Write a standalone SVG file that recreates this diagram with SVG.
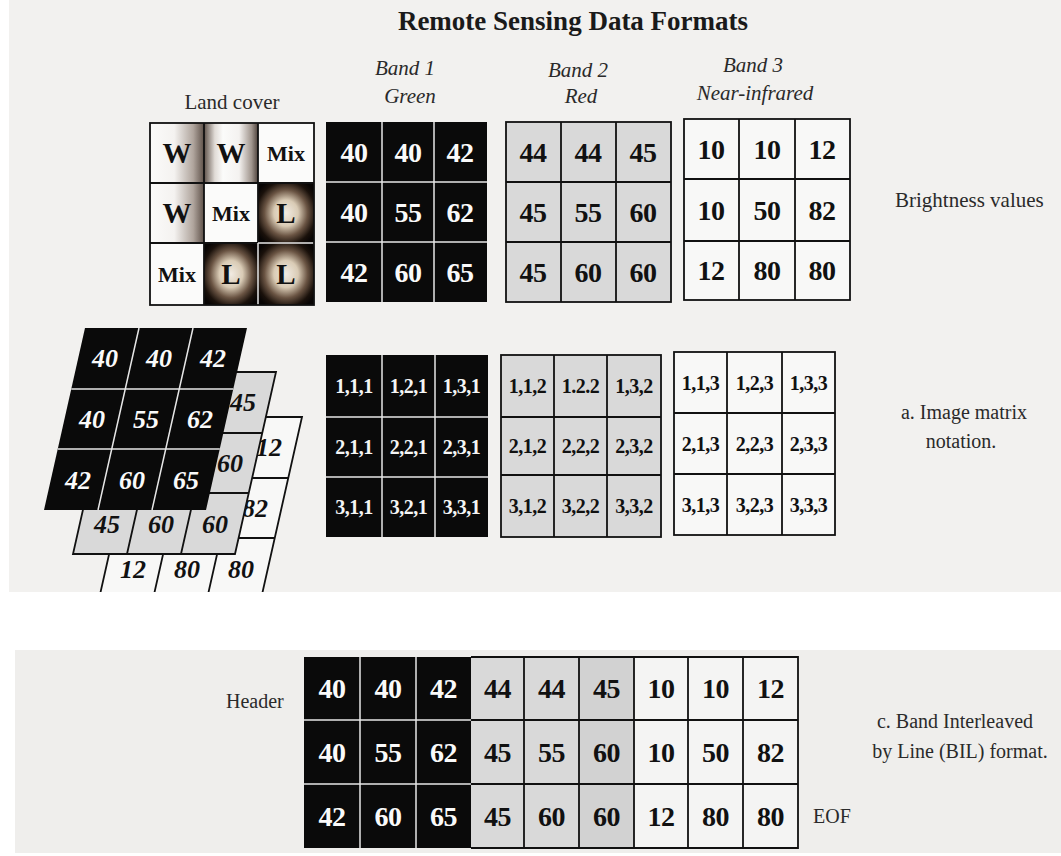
<svg xmlns="http://www.w3.org/2000/svg" width="1061" height="856" viewBox="0 0 1061 856">
<style>
text{font-family:"Liberation Serif","Times New Roman",serif;fill:#1a1a1a}
.t{font-size:27px;font-weight:bold;text-anchor:middle}
.bl{font-size:21px;font-style:italic;text-anchor:middle;fill:#2a2a2a}
.lab{font-size:21px;fill:#2a2a2a}
.labm{font-size:20px;fill:#2a2a2a;text-anchor:middle}
.n{font-size:28px;font-weight:bold;text-anchor:middle;fill:#111;letter-spacing:-0.5px}
.nw{font-size:28px;font-weight:bold;text-anchor:middle;fill:#fafafa;letter-spacing:-0.5px}
.ix{font-size:20px;font-weight:bold;text-anchor:middle;fill:#111;letter-spacing:-0.5px}
.ixw{font-size:20px;font-weight:bold;text-anchor:middle;fill:#f5f5f5;letter-spacing:-0.5px}
.sk{font-size:26px;font-weight:bold;font-style:italic;text-anchor:middle;fill:#111}
.skw{font-size:26px;font-weight:bold;font-style:italic;text-anchor:middle;fill:#fafafa}
.lc{font-size:29px;font-weight:bold;text-anchor:middle;fill:#111}
.lcm{font-size:22px;font-weight:bold;text-anchor:middle;fill:#111}
.blk{fill:#0a0a0a}
.gry{fill:#d9d9d9;stroke:#111;stroke-width:1.8}
.wht{fill:#f8f8f7;stroke:#111;stroke-width:1.8}
.ld{stroke:#111;stroke-width:1.8;fill:none}
.lw{stroke:#e6e6e6;stroke-width:1.5;fill:none}
</style>
<defs>
<linearGradient id="shR" x1="0" y1="0" x2="1" y2="0">
<stop offset="0" stop-color="#fbfbfa"/><stop offset="0.45" stop-color="#f4f2f0"/><stop offset="0.8" stop-color="#b0a59d"/><stop offset="1" stop-color="#5e5149"/>
</linearGradient>
<linearGradient id="shLR" x1="0" y1="0" x2="1" y2="0">
<stop offset="0" stop-color="#5e5149"/><stop offset="0.2" stop-color="#e0dbd6"/><stop offset="0.35" stop-color="#fbfbfa"/><stop offset="0.65" stop-color="#f4f2f0"/><stop offset="0.88" stop-color="#a0958d"/><stop offset="1" stop-color="#4e423b"/>
</linearGradient>
<radialGradient id="glow" cx="0.5" cy="0.5" r="0.62">
<stop offset="0" stop-color="#f1ebe2"/><stop offset="0.35" stop-color="#d9cbb5"/><stop offset="0.62" stop-color="#6a5443"/><stop offset="0.85" stop-color="#1a110b"/><stop offset="1" stop-color="#080504"/>
</radialGradient>
<clipPath id="pageClip"><rect x="9" y="0" width="1052" height="592"/></clipPath>
</defs>

<rect x="0" y="0" width="1061" height="856" fill="#ffffff"/>
<rect x="9" y="0" width="1052" height="592" fill="#f2f1ef"/>
<rect x="15" y="650" width="1046" height="203" fill="#efeeec"/>

<g id="connectors"/>

<g id="title"><text class="t" x="573" y="30">Remote Sensing Data Formats</text></g>

<g id="labels">
<text class="lab" x="232" y="109" text-anchor="middle">Land cover</text>
<text class="bl" x="405" y="75">Band 1</text>
<text class="bl" x="410" y="103">Green</text>
<text class="bl" x="578" y="77">Band 2</text>
<text class="bl" x="581" y="103">Red</text>
<text class="bl" x="753" y="72">Band 3</text>
<text class="bl" x="755" y="100">Near-infrared</text>
<text class="lab" x="895" y="207">Brightness values</text>
<text class="labm" x="964" y="419">a. Image matrix</text>
<text class="labm" x="961" y="448">notation.</text>
<text class="lab" x="226" y="708" style="font-size:20px">Header</text>
<text class="lab" x="813" y="823" style="font-size:20px">EOF</text>
<text class="labm" x="955" y="728">c. Band Interleaved</text>
<text class="labm" x="960" y="758">by Line (BIL) format.</text>
</g>

<g id="landcover">
<rect x="150" y="123" width="54" height="60" fill="url(#shR)"/>
<rect x="204" y="123" width="54" height="60" fill="url(#shLR)"/>
<rect x="258" y="123" width="56" height="60" fill="#fbfbfa"/>
<rect x="150" y="183" width="54" height="60" fill="url(#shR)"/>
<rect x="204" y="183" width="54" height="60" fill="#fbfbfa"/>
<rect x="258" y="183" width="56" height="60" fill="url(#glow)"/>
<rect x="150" y="243" width="54" height="62" fill="#fbfbfa"/>
<rect x="204" y="243" width="54" height="62" fill="url(#glow)"/>
<rect x="258" y="243" width="56" height="62" fill="url(#glow)"/>
<path class="ld" d="M204 123V305M258 123V243M150 183H314M150 243H258"/>
<path class="lw" d="M258 243H314M258 243V305"/>
<rect x="150" y="123" width="164" height="182" class="ld"/>
<text class="lc" x="177" y="163">W</text>
<text class="lc" x="231" y="163">W</text>
<text class="lcm" x="286" y="161">Mix</text>
<text class="lc" x="177" y="223">W</text>
<text class="lcm" x="231" y="221">Mix</text>
<text class="lc" x="286" y="223">L</text>
<text class="lcm" x="177" y="282">Mix</text>
<text class="lc" x="231" y="284">L</text>
<text class="lc" x="286" y="284">L</text>
</g>

<g id="band1">
<rect x="326" y="122" width="161" height="180" class="blk"/>
<path class="lw" d="M382 122V302M434 122V302M326 182H487M326 242H487"/>
<text class="nw" x="354" y="162">40</text><text class="nw" x="408" y="162">40</text><text class="nw" x="460" y="162">42</text>
<text class="nw" x="354" y="222">40</text><text class="nw" x="408" y="222">55</text><text class="nw" x="460" y="222">62</text>
<text class="nw" x="354" y="282">42</text><text class="nw" x="408" y="282">60</text><text class="nw" x="460" y="282">65</text>
</g>

<g id="band2">
<rect x="506" y="122" width="165" height="180" class="gry"/>
<path class="ld" d="M561 122V302M616 122V302M506 182H671M506 242H671"/>
<text class="n" x="533" y="162">44</text><text class="n" x="588" y="162">44</text><text class="n" x="643" y="162">45</text>
<text class="n" x="533" y="222">45</text><text class="n" x="588" y="222">55</text><text class="n" x="643" y="222">60</text>
<text class="n" x="533" y="282">45</text><text class="n" x="588" y="282">60</text><text class="n" x="643" y="282">60</text>
</g>

<g id="band3">
<rect x="684" y="119" width="166" height="181" class="wht"/>
<path class="ld" d="M739 119V300M795 119V300M684 179H850M684 241H850"/>
<text class="n" x="711" y="159">10</text><text class="n" x="767" y="159">10</text><text class="n" x="822" y="159">12</text>
<text class="n" x="711" y="220">10</text><text class="n" x="767" y="220">50</text><text class="n" x="822" y="220">82</text>
<text class="n" x="711" y="280">12</text><text class="n" x="767" y="280">80</text><text class="n" x="822" y="280">80</text>
</g>

<g id="stack" clip-path="url(#pageClip)">
<g id="layer3">
<polygon points="140,417 302,417 261,599 99,599" class="wht"/>
<path class="ld" d="M194 417L153 599M248 417L207 599M126.3 478H288.3M112.8 538H274.8"/>
<text class="sk" x="269" y="456">12</text>
<text class="sk" x="255" y="517">82</text>
<text class="sk" x="133" y="578">12</text><text class="sk" x="187" y="578">80</text><text class="sk" x="241" y="578">80</text>
</g>
<g id="layer2">
<polygon points="114,372 276,372 235,554 73,554" class="gry"/>
<path class="ld" d="M168 372L127 554M222 372L181 554M100.3 433H262.3M86.8 493H248.8"/>
<text class="sk" x="243" y="411">45</text>
<text class="sk" x="230" y="472">60</text>
<text class="sk" x="107" y="533">45</text><text class="sk" x="161" y="533">60</text><text class="sk" x="215" y="533">60</text>
</g>
<g id="layer1">
<polygon points="85,328 247,328 206,510 44,510" class="blk"/>
<path class="lw" d="M139 328L98 510M193 328L152 510M71.3 389H233.3M57.8 449H219.8"/>
<text class="skw" x="105" y="367">40</text><text class="skw" x="159" y="367">40</text><text class="skw" x="213" y="367">42</text>
<text class="skw" x="92" y="428">40</text><text class="skw" x="146" y="428">55</text><text class="skw" x="200" y="428">62</text>
<text class="skw" x="78" y="489">42</text><text class="skw" x="132" y="489">60</text><text class="skw" x="186" y="489">65</text>
</g>
</g>

<g id="index1">
<rect x="326" y="355" width="162" height="182" class="blk"/>
<path class="lw" d="M382 355V537M435 355V537M326 417H488M326 477H488"/>
<text class="ixw" x="354" y="393">1,1,1</text><text class="ixw" x="408.5" y="393">1,2,1</text><text class="ixw" x="461.5" y="393">1,3,1</text>
<text class="ixw" x="354" y="454">2,1,1</text><text class="ixw" x="408.5" y="454">2,2,1</text><text class="ixw" x="461.5" y="454">2,3,1</text>
<text class="ixw" x="354" y="514">3,1,1</text><text class="ixw" x="408.5" y="514">3,2,1</text><text class="ixw" x="461.5" y="514">3,3,1</text>
</g>

<g id="index2">
<rect x="501" y="355" width="160" height="182" class="gry"/>
<path class="ld" d="M554 355V537M607 355V537M501 417H661M501 475H661"/>
<text class="ix" x="527.5" y="393">1,1,2</text><text class="ix" x="580.5" y="393">1.2.2</text><text class="ix" x="634" y="393">1,3,2</text>
<text class="ix" x="527.5" y="453">2,1,2</text><text class="ix" x="580.5" y="453">2,2,2</text><text class="ix" x="634" y="453">2,3,2</text>
<text class="ix" x="527.5" y="513">3,1,2</text><text class="ix" x="580.5" y="513">3,2,2</text><text class="ix" x="634" y="513">3,3,2</text>
</g>

<g id="index3">
<rect x="674" y="352" width="161" height="183" class="wht"/>
<path class="ld" d="M727 352V535M782 352V535M674 413H835M674 474H835"/>
<text class="ix" x="700.5" y="390">1,1,3</text><text class="ix" x="754.5" y="390">1,2,3</text><text class="ix" x="808.5" y="390">1,3,3</text>
<text class="ix" x="700.5" y="451">2,1,3</text><text class="ix" x="754.5" y="451">2,2,3</text><text class="ix" x="808.5" y="451">2,3,3</text>
<text class="ix" x="700.5" y="512">3,1,3</text><text class="ix" x="754.5" y="512">3,2,3</text><text class="ix" x="808.5" y="512">3,3,3</text>
</g>

<g id="bil">
<rect x="304" y="657" width="167" height="191" class="blk"/>
<rect x="471" y="657" width="163" height="191" fill="#d9d9d9"/>
<rect x="579" y="657" width="55" height="191" fill="#d2d2d2"/>
<rect x="634" y="657" width="164" height="191" fill="#f4f4f3"/>
<path class="lw" d="M360 657V848M416 657V848M304 720H471M304 784H471"/>
<path class="ld" d="M524 657V848M579 657V848M634 657V848M688 657V848M743 657V848M471 720H798M471 784H798M471 657H798V848H471"/>
<text class="nw" x="332" y="698">40</text><text class="nw" x="388" y="698">40</text><text class="nw" x="443.5" y="698">42</text>
<text class="n" x="497.5" y="698">44</text><text class="n" x="551.5" y="698">44</text><text class="n" x="606.5" y="698">45</text>
<text class="n" x="661" y="698">10</text><text class="n" x="715.5" y="698">10</text><text class="n" x="770.5" y="698">12</text>
<text class="nw" x="332" y="762">40</text><text class="nw" x="388" y="762">55</text><text class="nw" x="443.5" y="762">62</text>
<text class="n" x="497.5" y="762">45</text><text class="n" x="551.5" y="762">55</text><text class="n" x="606.5" y="762">60</text>
<text class="n" x="661" y="762">10</text><text class="n" x="715.5" y="762">50</text><text class="n" x="770.5" y="762">82</text>
<text class="nw" x="332" y="826">42</text><text class="nw" x="388" y="826">60</text><text class="nw" x="443.5" y="826">65</text>
<text class="n" x="497.5" y="826">45</text><text class="n" x="551.5" y="826">60</text><text class="n" x="606.5" y="826">60</text>
<text class="n" x="661" y="826">12</text><text class="n" x="715.5" y="826">80</text><text class="n" x="770.5" y="826">80</text>
</g>
</svg>
